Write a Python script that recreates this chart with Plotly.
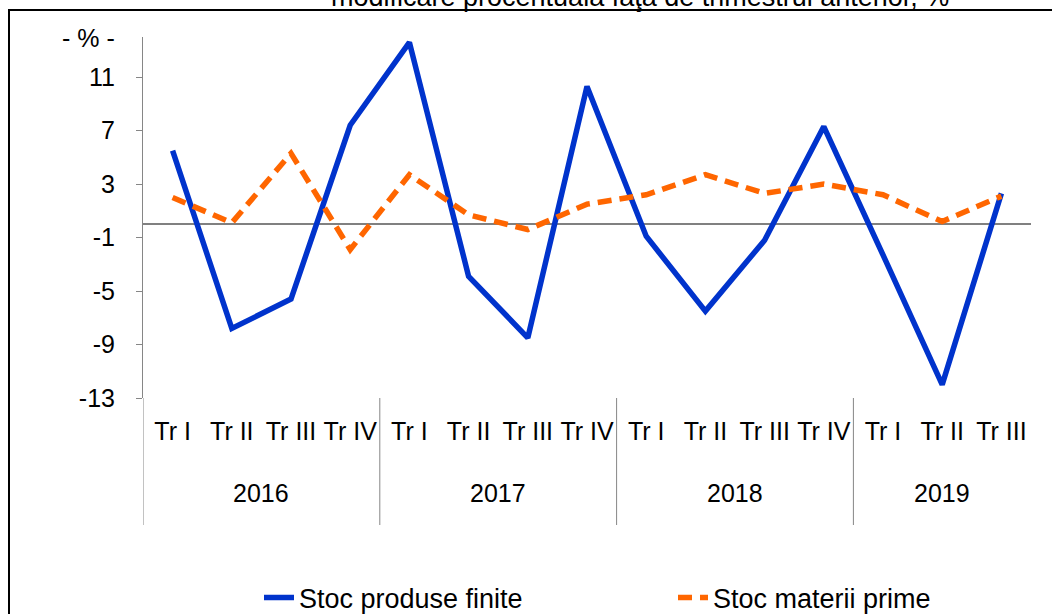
import plotly.graph_objects as go

quarters = ["Tr I", "Tr II", "Tr III", "Tr IV",
            "Tr I", "Tr II", "Tr III", "Tr IV",
            "Tr I", "Tr II", "Tr III", "Tr IV",
            "Tr I", "Tr II", "Tr III"]
years = ["2016", "2017", "2018", "2019"]
year_counts = [4, 4, 4, 3]

stoc_produse_finite = [5.5, -7.8, -5.6, 7.4, 13.6, -3.9, -8.5, 10.3,
                       -0.9, -6.5, -1.2, 7.3, -2.3, -12.0, 2.3]
stoc_materii_prime = [2.0, 0.1, 5.3, -1.9, 3.7, 0.7, -0.4, 1.5,
                      2.2, 3.7, 2.3, 3.0, 2.2, 0.2, 2.1]

y_ticks = [-13, -9, -5, -1, 3, 7, 11]
y_tick_labels = ["-13", "-9", "-5", "-1", "3", "7", "11"]

FONT = "Liberation Sans, Arial, sans-serif"
W, H = 1052, 614
L, R, T, B = 143, 21, 37, 216
PH = H - T - B
PW = W - L - R


def py(pix):
    return (H - B - pix) / PH


def px(pix):
    return (pix - L) / PW


xs = list(range(len(quarters)))

fig = go.Figure()
fig.add_trace(go.Scatter(
    x=xs, y=stoc_produse_finite, mode="lines", name="Stoc produse finite",
    line=dict(color="#0033CC", width=5.5)))
fig.add_trace(go.Scatter(
    x=xs, y=stoc_materii_prime, mode="lines", name="Stoc materii prime",
    line=dict(color="#FF6600", width=5.5, dash="14px,8px")))

shapes = []
start = 0
bounds = [-0.5]
for c in year_counts[:-1]:
    start += c
    bounds.append(start - 0.5)
for b in bounds:
    shapes.append(dict(type="line", xref="x", yref="paper", x0=b, x1=b,
                       y0=0, y1=py(525), line=dict(color="#868686", width=1)))
shapes.append(dict(type="rect", xref="paper", yref="paper",
                   x0=px(9), x1=px(1080), y0=py(10), y1=py(660),
                   line=dict(color="black", width=2), fillcolor="rgba(0,0,0,0)",
                   layer="below"))

annotations = []
start = 0
for yr, c in zip(years, year_counts):
    annotations.append(dict(x=start + (c - 1) / 2, xref="x", y=py(493), yref="paper",
                            text=yr, showarrow=False, xanchor="center", yanchor="middle",
                            font=dict(family=FONT, size=25, color="black")))
    start += c
annotations.append(dict(x=px(88), xref="paper", y=py(38), yref="paper",
                        text="- % -", showarrow=False, xanchor="center", yanchor="middle",
                        font=dict(family=FONT, size=25, color="black")))
annotations.append(dict(x=px(640), xref="paper", y=py(14), yref="paper",
                        text="modificare procentuală faţă de trimestrul anterior, %",
                        showarrow=False, xanchor="center", yanchor="bottom",
                        font=dict(family=FONT, size=27, color="black")))

fig.update_layout(
    width=W, height=H,
    margin=dict(l=L, r=R, t=T, b=B, pad=0, autoexpand=False),
    paper_bgcolor="white", plot_bgcolor="white",
    font=dict(family=FONT, color="black"),
    showlegend=True,
    legend=dict(orientation="h", x=px(259), xanchor="left", y=py(598), yanchor="middle",
                font=dict(family=FONT, size=27, color="black"),
                entrywidth=369, entrywidthmode="pixels",
                bgcolor="rgba(0,0,0,0)"),
    shapes=shapes,
    annotations=annotations,
)
fig.update_xaxes(range=[-0.5, len(quarters) - 0.5], tickmode="array", tickvals=xs,
                 ticktext=quarters, showgrid=False, zeroline=False, showline=False,
                 ticks="", ticklabelstandoff=16,
                 tickfont=dict(family=FONT, size=25, color="black"))
fig.update_yaxes(range=[-13, 14], tickmode="array", tickvals=y_ticks,
                 ticktext=y_tick_labels,
                 showgrid=False, showline=True, linecolor="#868686", linewidth=1,
                 ticks="outside", ticklen=6, tickcolor="#868686", tickwidth=1,
                 zeroline=True, zerolinecolor="#808080", zerolinewidth=1.5,
                 ticklabelstandoff=16,
                 tickfont=dict(family=FONT, size=25, color="black"))

fig.write_html("out.html", config={"displayModeBar": False},
               post_script="document.body.style.margin='0';document.body.style.overflow='hidden';")
